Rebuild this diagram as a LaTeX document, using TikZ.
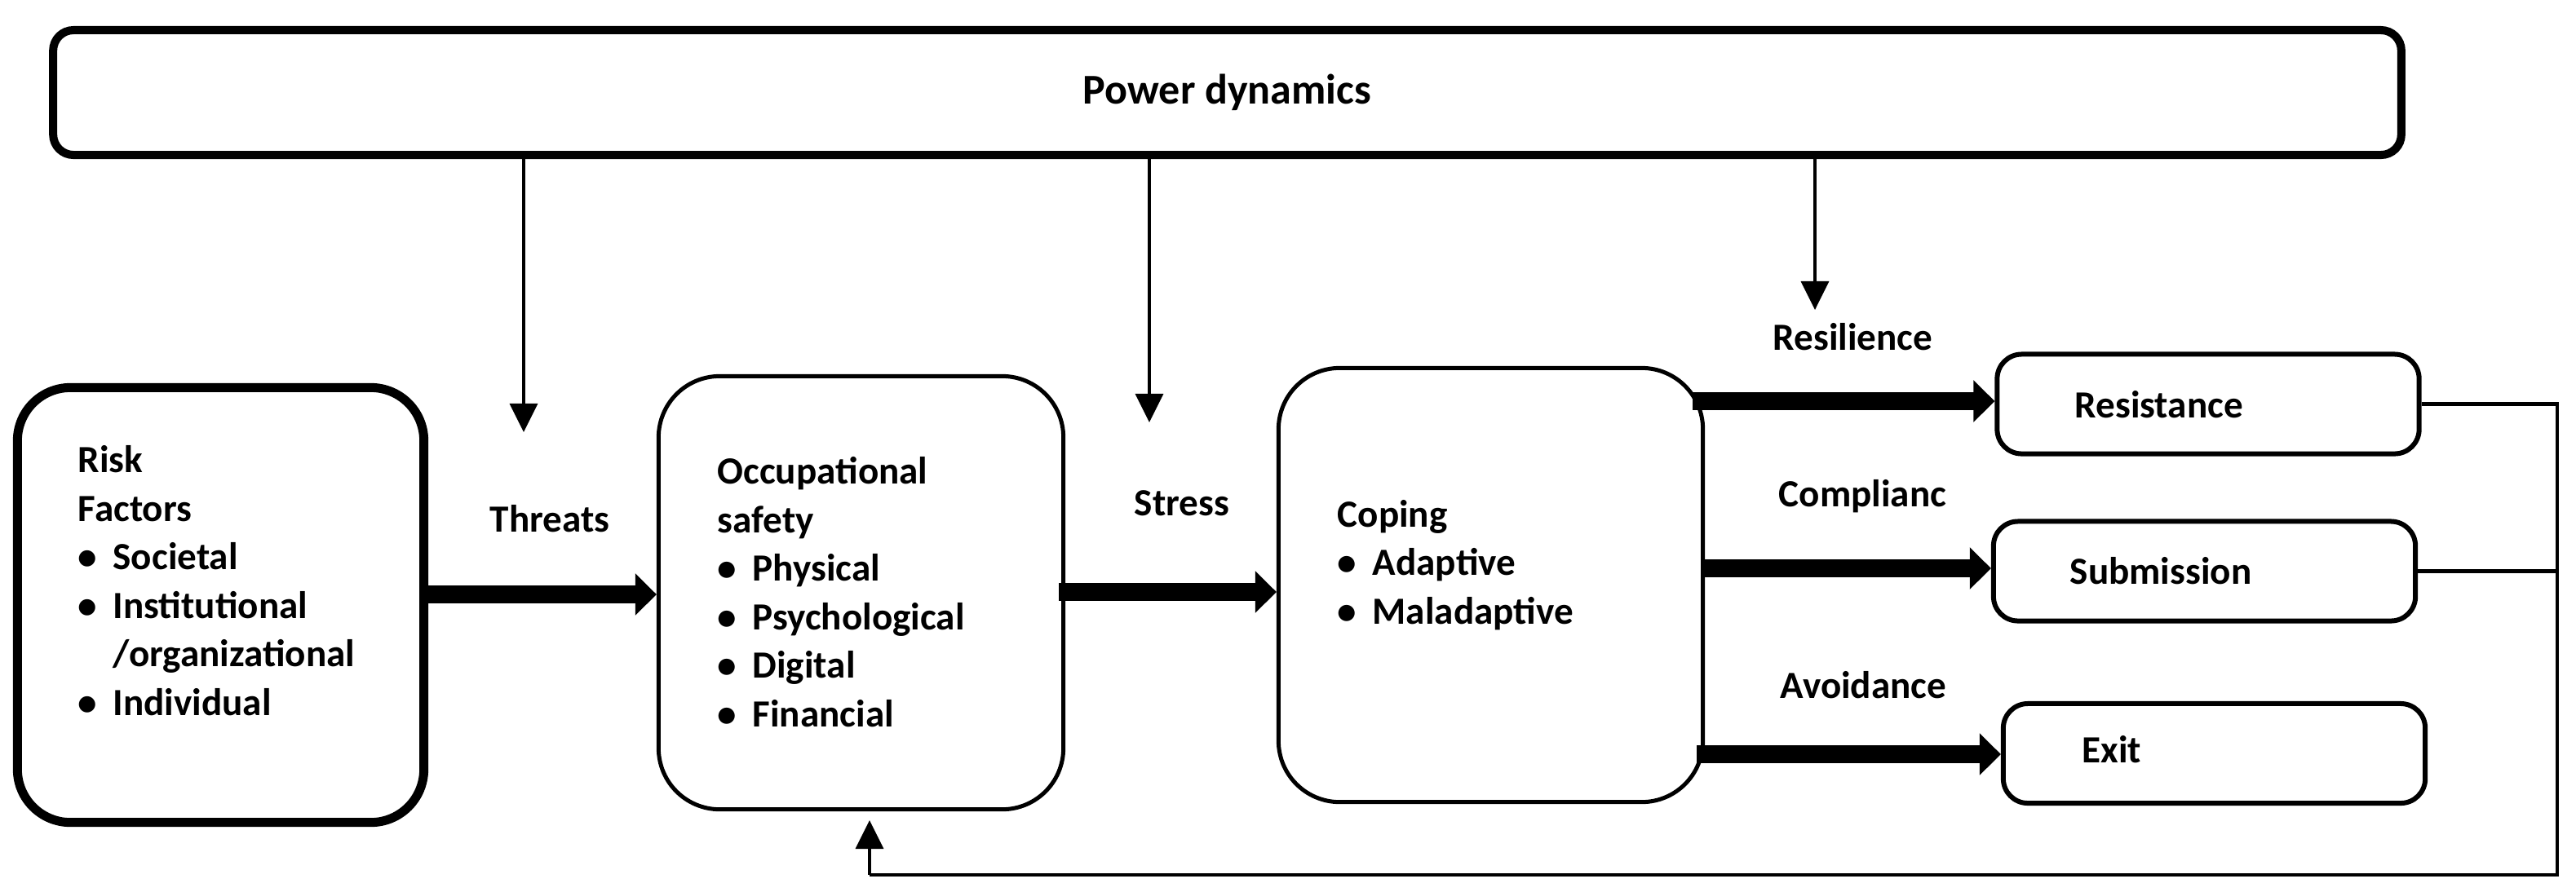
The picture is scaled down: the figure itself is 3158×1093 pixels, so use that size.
\documentclass[tikz,border=0pt]{standalone}
\usepackage{fontspec}
\setmainfont{Carlito}
\usetikzlibrary{arrows.meta}
\newcommand{\bul}{\makebox[0.43cm][l]{•}}
\newcommand{\ind}{\hspace*{0.43cm}}
\begin{document}
\begin{tikzpicture}[x=0.01cm,y=-0.01cm,
    txt/.style={inner sep=0pt, align=left, font=\bfseries\fontsize{13.4}{16.9}\selectfont},
    box/.style={draw, inner sep=0pt, line width=0.05cm, rounded corners=0.75cm},
    smallbox/.style={draw, inner sep=0pt, line width=0.06cm, rounded corners=0.3cm,
        minimum width=5.17cm, minimum height=1.22cm},
    thinarr/.style={-{Triangle[length=0.35cm,width=0.34cm]}, line width=0.9pt},
    bigarr/.style={-{Triangle[length=0.26cm,width=0.5cm]}, line width=0.22cm},
    fbline/.style={line width=1.3pt}]
    \useasboundingbox (0,0) rectangle (3158,1093);
    % boxes
    \node[draw, inner sep=0pt, line width=0.1cm, rounded corners=0.25cm,
        minimum width=28.77cm, minimum height=1.53cm,
        font=\bfseries\fontsize{14.8}{17}\selectfont] (pow) at (1504.5,113.5) {Power dynamics};
    \node[box, line width=0.11cm, rounded corners=0.65cm, minimum width=4.98cm, minimum height=5.33cm] (risk) at (270.5,742) {};
    \node[box, minimum width=4.96cm, minimum height=5.31cm] (occ) at (1055.5,727) {};
    \node[box, minimum width=5.2cm, minimum height=5.32cm] (cop) at (1827.5,717.5) {};
    \node[smallbox] (res) at (2707,495.5) {};
    \node[smallbox] (sub) at (2702.5,700.5) {};
    \node[smallbox] (exit) at (2714.5,924) {};
    % texts (base = last line)
    \node[txt, anchor=base west] (risktxt) at (95,877) {Risk\\Factors\\\bul Societal\\\bul Institutional\\\ind/organizational\\\bul Individual};
    \node[txt, anchor=base west] (occtxt) at (879,891) {Occupational\\safety\\\bul Physical\\\bul Psychological\\\bul Digital\\\bul Financial};
    \node[txt, anchor=base west] (coptxt) at (1639,765) {Coping\\\bul Adaptive\\\bul Maladaptive};
    \node[txt, anchor=base west] (restxt) at (2543,512) {Resistance};
    \node[txt, anchor=base west] (subtxt) at (2537,716) {Submission};
    \node[txt, anchor=base west] (exittxt) at (2552,935) {Exit};
    \node[txt, anchor=base west] (threats) at (600,652) {Threats};
    \node[txt, anchor=base west] (stress) at (1390,632) {Stress};
    \node[txt, anchor=base west] (resil) at (2173,429) {Resilience};
    \node[txt, anchor=base west] (compl) at (2180,621) {Complianc};
    \node[txt, anchor=base west] (avoid) at (2182,856) {Avoidance};
    % arrows from power dynamics
    \coordinate (t1) at (642,530);
    \coordinate (t2) at (1409,518);
    \coordinate (t3) at (2225,380);
    \draw[thinarr] (pow.south -| t1) -- (t1);
    \draw[thinarr] (pow.south -| t2) -- (t2);
    \draw[thinarr] (pow.south -| t3) -- (t3);
    % thick arrows
    \draw[bigarr] (risk.east |- 0,729) -- (occ.west |- 0,729);
    \draw[bigarr] ([xshift=-0.08cm]occ.east |- 0,726) -- (cop.west |- 0,726);
    \draw[bigarr] ([xshift=-0.15cm]cop.east |- 0,492) -- (res.west |- 0,492);
    \draw[bigarr] (cop.east |- 0,697) -- (sub.west |- 0,697);
    \draw[bigarr] ([xshift=-0.1cm]cop.east |- 0,925) -- (exit.west |- 0,925);
    % feedback loop
    \coordinate (fb) at (3135,1073);
    \coordinate (fbend) at (1066,1073);
    \coordinate (fbtip) at (1066,1006);
    \draw[fbline] (res.east) -- (res.east -| fb) -- (fb) -- (fbend);
    \draw[fbline] (sub.east) -- (sub.east -| fb);
    \draw[thinarr] (fbend) -- (fbtip);
\end{tikzpicture}
\end{document}
